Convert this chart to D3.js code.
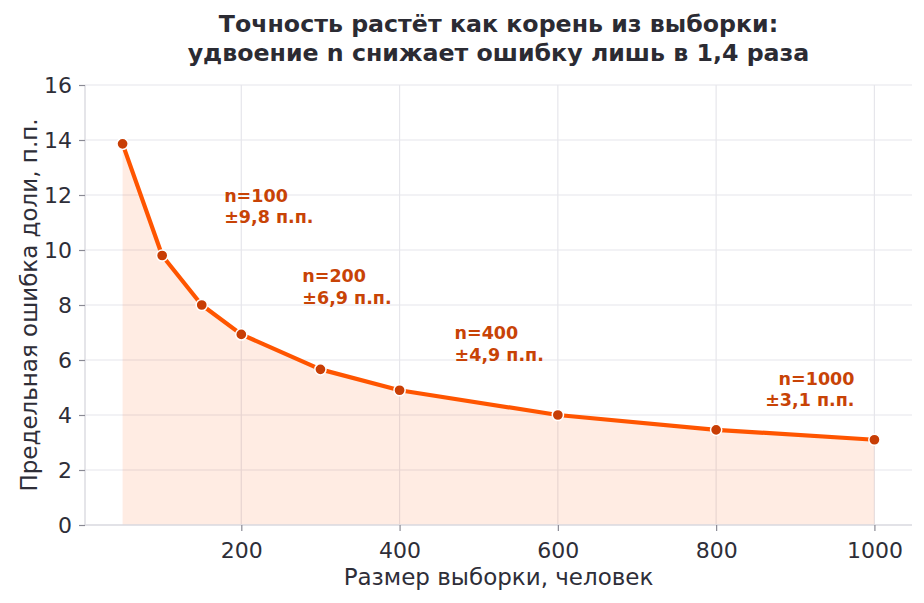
<!DOCTYPE html>
<html>
<head>
<meta charset="utf-8">
<script src="https://cdn.jsdelivr.net/npm/d3@7"></script>
<style>
  body { margin: 0; background: #fff; }
  svg text { font-family: "DejaVu Sans", sans-serif; }
</style>
</head>
<body>
<div class="chart"></div>
<script>
// data
var sampleSizes = [50, 100, 150, 200, 300, 400, 600, 800, 1000];
var marginErrors = [13.86, 9.8, 8.0, 6.93, 5.66, 4.9, 4.0, 3.46, 3.1];
var yTicks = [0, 2, 4, 6, 8, 10, 12, 14, 16];
var xTicks = [200, 400, 600, 800, 1000];
var noteSizes = [100, 200, 400, 1000];
var noteLabels = ["±9,8 п.п.", "±6,9 п.п.", "±4,9 п.п.", "±3,1 п.п."];

var svgWidth = 924;
var svgHeight = 603;

var margin = { top: 85, right: 12, bottom: 78, left: 85 };
var width = svgWidth - margin.left - margin.right;
var height = svgHeight - margin.top - margin.bottom;

var svg = d3.select(".chart")
  .append("svg")
  .attr("width", svgWidth)
  .attr("height", svgHeight);

var chartGroup = svg.append("g")
  .attr("transform", `translate(${margin.left}, ${margin.top})`);

var points = sampleSizes.map((n, i) => ({ n: n, e: marginErrors[i] }));

// matplotlib-like 5% padding on x
var pad = (d3.max(sampleSizes) - d3.min(sampleSizes)) * 0.05;
var xLinearScale = d3.scaleLinear()
  .domain([d3.min(sampleSizes) - pad, d3.max(sampleSizes) + pad])
  .range([0, width]);

var yLinearScale = d3.scaleLinear()
  .domain([0, 16])
  .range([height, 0]);

// grid
chartGroup.append("g")
  .selectAll("line")
  .data(yTicks)
  .enter()
  .append("line")
  .attr("x1", 0)
  .attr("x2", width)
  .attr("y1", d => yLinearScale(d))
  .attr("y2", d => yLinearScale(d))
  .attr("stroke", "#e6e6eb")
  .attr("stroke-width", 1.2);

chartGroup.append("g")
  .selectAll("line")
  .data(xTicks)
  .enter()
  .append("line")
  .attr("x1", d => xLinearScale(d))
  .attr("x2", d => xLinearScale(d))
  .attr("y1", 0)
  .attr("y2", height)
  .attr("stroke", "#e6e6eb")
  .attr("stroke-width", 1.2);

// area under the curve
var area = d3.area()
  .x(d => xLinearScale(d.n))
  .y0(yLinearScale(0))
  .y1(d => yLinearScale(d.e));

chartGroup.append("path")
  .datum(points)
  .attr("d", area)
  .attr("fill", "#ff5500")
  .attr("fill-opacity", 0.11);

// axes
var bottomAxis = d3.axisBottom(xLinearScale).tickValues(xTicks)
  .tickFormat(d3.format("d")).tickSize(6).tickPadding(6);
var leftAxis = d3.axisLeft(yLinearScale).tickValues(yTicks)
  .tickFormat(d3.format("d")).tickSize(6).tickPadding(7);

var xAxis = chartGroup.append("g")
  .attr("transform", `translate(0, ${height})`)
  .call(bottomAxis);

var yAxis = chartGroup.append("g")
  .call(leftAxis);

[xAxis, yAxis].forEach(function(ax) {
  ax.select(".domain").attr("stroke", "#dcdce2").attr("stroke-width", 1.5);
  ax.selectAll(".tick line").attr("stroke", "#8a8a94").attr("stroke-width", 1.2);
  ax.selectAll(".tick text")
    .attr("fill", "#2e2e38")
    .style("font-size", "22px");
});
xAxis.select(".domain").attr("d", `M0,0H${width}`);
yAxis.select(".domain").attr("d", `M0,${height}V0`);
xAxis.selectAll(".tick text").attr("dy", "0.95em");
yAxis.selectAll(".tick text").attr("dy", "0.36em");

// line
var line = d3.line()
  .x(d => xLinearScale(d.n))
  .y(d => yLinearScale(d.e));

chartGroup.append("path")
  .datum(points)
  .attr("d", line)
  .attr("fill", "none")
  .attr("stroke", "#ff5500")
  .attr("stroke-width", 4.2)
  .attr("stroke-linejoin", "round")
  .attr("stroke-linecap", "round");

// markers
chartGroup.selectAll("circle")
  .data(points)
  .enter()
  .append("circle")
  .attr("cx", d => xLinearScale(d.n))
  .attr("cy", d => yLinearScale(d.e))
  .attr("r", 5.6)
  .attr("fill", "#c83e05")
  .attr("stroke", "#ffffff")
  .attr("stroke-width", 1.5);

// annotations (pixel offsets from their point)
var noteOffsets = [
  { dx: 62, dy: -54, anchor: "start" },
  { dx: 61, dy: -52, anchor: "start" },
  { dx: 55, dy: -51, anchor: "start" },
  { dx: -20, dy: -55, anchor: "end" }
];

noteSizes.forEach(function(n, i) {
  var idx = sampleSizes.indexOf(n);
  var px = xLinearScale(n);
  var py = yLinearScale(marginErrors[idx]);
  var off = noteOffsets[i];
  var t = chartGroup.append("text")
    .attr("x", px + off.dx)
    .attr("y", py + off.dy)
    .attr("text-anchor", off.anchor)
    .attr("fill", "#c84306")
    .style("font-size", "17.5px")
    .style("font-weight", "bold");
  t.append("tspan").attr("x", px + off.dx).text("n=" + n);
  t.append("tspan").attr("x", px + off.dx).attr("dy", 21.5).text(noteLabels[i]);
});

// axis labels
svg.append("text")
  .attr("x", margin.left + width / 2)
  .attr("y", 585)
  .attr("text-anchor", "middle")
  .attr("fill", "#2e2e38")
  .style("font-size", "23px")
  .text("Размер выборки, человек");

svg.append("text")
  .attr("transform", `translate(29, ${margin.top + height / 2}) rotate(-90)`)
  .attr("text-anchor", "middle")
  .attr("dy", "0.35em")
  .attr("fill", "#2e2e38")
  .style("font-size", "23px")
  .text("Предельная ошибка доли, п.п.");

// title
var title = svg.append("text")
  .attr("x", margin.left + width / 2)
  .attr("y", 32)
  .attr("text-anchor", "middle")
  .attr("fill", "#2b2b33")
  .style("font-size", "23.7px")
  .style("font-weight", "bold");
title.append("tspan").attr("x", margin.left + width / 2).text("Точность растёт как корень из выборки:");
title.append("tspan").attr("x", margin.left + width / 2).attr("dy", 28.5).text("удвоение n снижает ошибку лишь в 1,4 раза");
</script>
</body>
</html>
